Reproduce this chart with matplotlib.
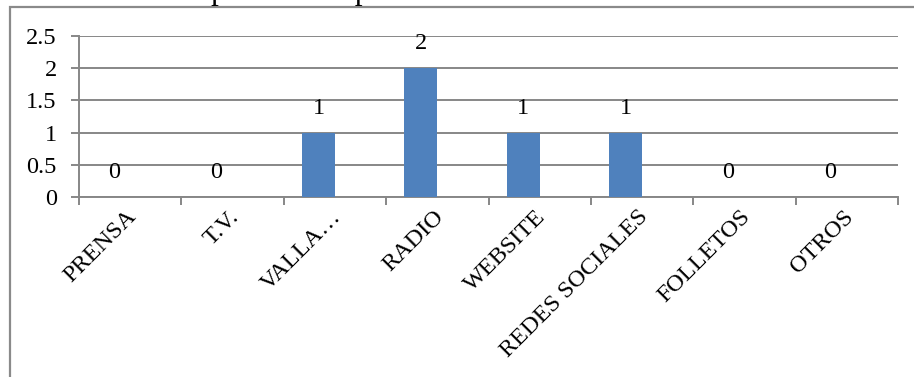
import numpy as np
import matplotlib.pyplot as plt
from matplotlib.patches import Rectangle

plt.rcParams['font.family'] = ['Liberation Serif', 'DejaVu Serif']

categories = ["PRENSA", "T.V.", "VALLA\u2026", "RADIO", "WEBSITE", "REDES SOCIALES", "FOLLETOS", "OTROS"]
values = [0, 0, 1, 2, 1, 1, 0, 0]
yticks = [0, 0.5, 1, 1.5, 2, 2.5]
ytick_labels = ["0", "0.5", "1", "1.5", "2", "2.5"]
title = "promoción para la comunidad estudiantil"

W, H = 914, 377
fig = plt.figure(figsize=(W / 100, H / 100), dpi=100)
fig.patch.set_facecolor('white')

# chart frame (extends past the right and bottom edges)
fig.patches.append(Rectangle((9.5 / W, -0.2), 1.2, (H - 7) / H + 0.2,
                             transform=fig.transFigure, fill=False,
                             edgecolor='#8a8a8a', linewidth=1.6, zorder=0))

fig.text(211 / W, 1.0 + 1 / H, title, fontsize=22.5, ha='left', va='baseline')

ax = fig.add_axes([79 / W, 180 / H, (898 - 79) / W, (341 - 180) / H])
gray = '#878787'

n_series = 2
gap = 1.1
bw = 1 / (n_series + gap)
x = np.arange(len(categories))
xs = x - bw / 2

ax.bar(xs, values, width=bw, color='#4f81bd', zorder=3)
for xi, v in zip(xs, values):
    ax.annotate(str(v), (xi, v), xytext=(0, 10), textcoords='offset points',
                ha='center', va='bottom', fontsize=17.5)

ax.set_xlim(-0.5, len(categories) - 0.5)
ax.set_ylim(0, 2.5)
ax.set_yticks(yticks)
ax.set_yticklabels(ytick_labels)
ax.yaxis.grid(True, color=gray, linewidth=1.4, zorder=0)
ax.set_axisbelow(True)

ax.set_xticks(x + 0.03)
ax.set_xticklabels(categories, rotation=45, ha='right', va='center',
                   rotation_mode='anchor')
ax.set_xticks(np.arange(len(categories) + 1) - 0.5, minor=True)
ax.tick_params(axis='x', which='major', length=0, pad=12, labelsize=17.5)
ax.tick_params(axis='x', which='minor', length=6, width=1.4, color=gray, direction='out')
ax.tick_params(axis='y', length=6, width=1.4, color=gray, direction='out',
               labelsize=17.5, pad=10)

for s in ('top', 'right'):
    ax.spines[s].set_visible(False)
for s in ('left', 'bottom'):
    ax.spines[s].set_color(gray)
    ax.spines[s].set_linewidth(1.4)

fig.savefig('out.png', dpi=100)
